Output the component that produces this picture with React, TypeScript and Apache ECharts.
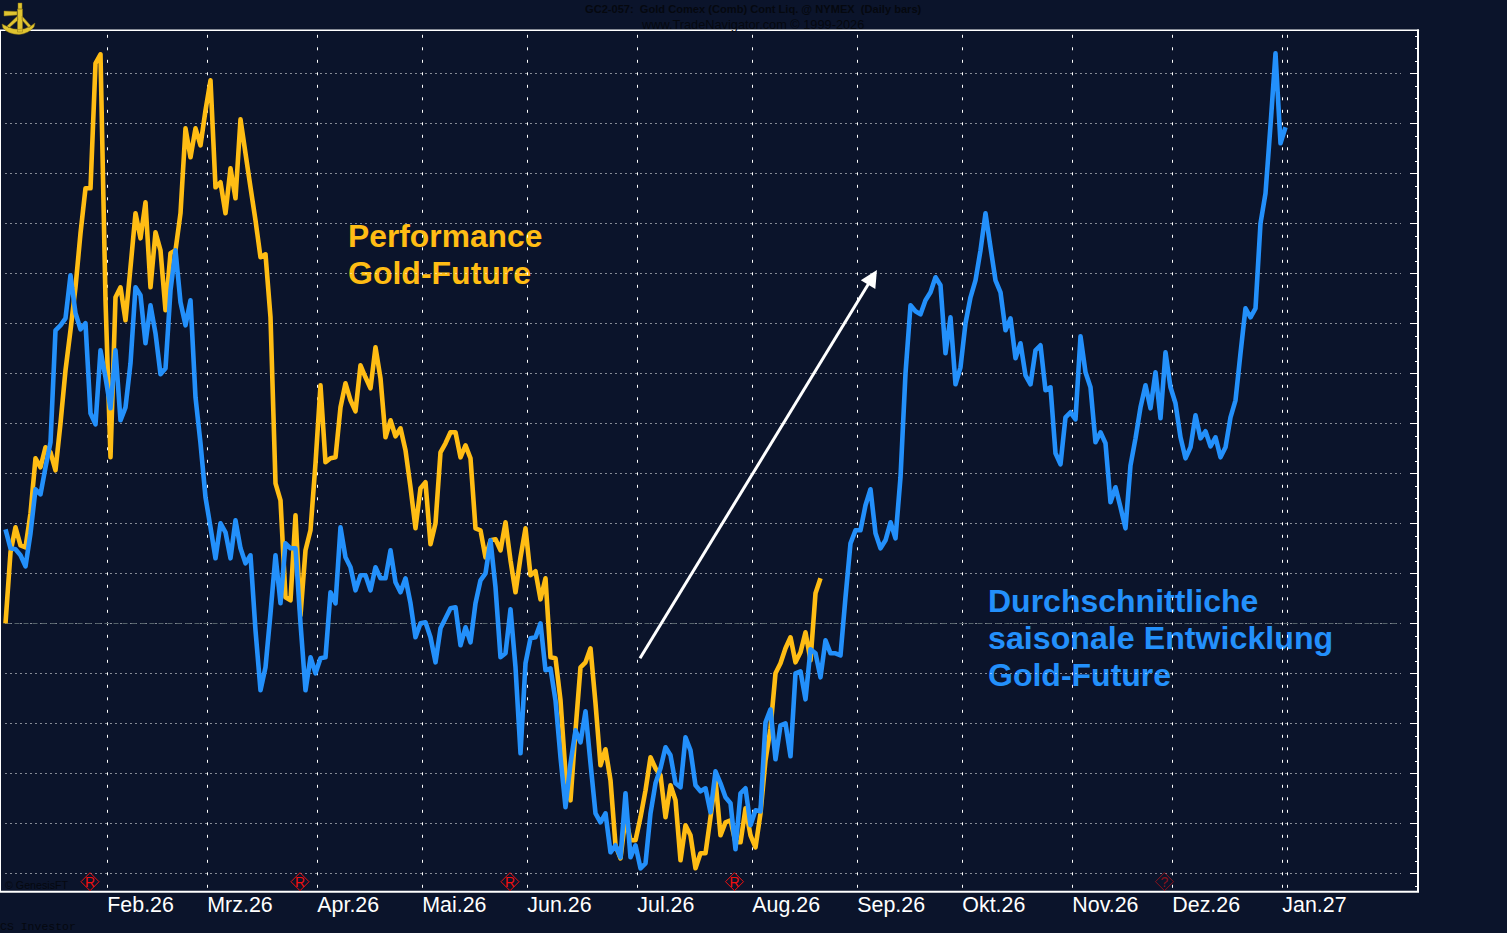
import React, { useEffect, useRef } from "react";
import * as echarts from "echarts";

const blueValues = [
  344,325,324,318,307,340,384,379,406,431,543,548,555,598,560,544,550,460,449,523,
  496,465,523,453,466,510,586,578,530,568,540,499,505,583,623,571,548,573,476,430,
  376,346,315,350,341,315,353,325,310,318,243,183,206,260,318,270,330,325,325,250,
  183,216,200,215,216,281,270,346,316,306,283,298,298,283,306,295,295,323,291,281,
  295,270,236,250,251,236,211,245,255,265,266,228,246,231,270,293,300,333,286,216,
  220,264,206,120,210,235,236,250,203,205,173,116,66,110,143,131,162,110,60,51,
  60,21,28,16,80,16,28,5,10,60,90,105,126,118,90,86,136,123,88,82,
  85,61,102,90,76,70,24,80,85,48,63,62,151,164,114,148,150,117,200,202,
  174,224,220,196,233,220,220,218,276,330,343,343,368,384,340,325,333,351,335,396,
  500,568,562,559,573,581,596,588,520,556,489,506,550,576,593,623,660,626,593,581,
  543,555,515,530,498,489,523,528,483,486,420,409,456,461,454,537,501,486,431,441,
  430,371,386,366,345,408,435,466,488,465,501,455,521,486,470,436,415,426,458,435,
  442,427,436,416,426,456,473,520,565,556,565,650,680,748,820,730,746,
];
const goldValues = [
  250,321,346,328,326,360,415,406,426,421,403,450,503,543,586,640,685,685,810,819,
  573,416,576,586,553,606,660,635,671,586,641,623,563,620,623,660,745,716,745,728,
  763,793,686,691,660,705,675,754,720,686,653,616,619,556,390,373,276,273,358,258,
  323,343,410,488,411,415,416,466,490,473,462,508,496,485,526,495,436,453,437,445,
  423,386,345,385,391,329,350,421,430,441,441,416,428,415,345,343,316,333,334,323,
  351,313,281,316,345,298,302,274,295,216,215,173,100,73,143,206,211,225,170,108,
  124,93,28,15,56,33,33,56,83,116,105,98,56,88,73,13,48,38,5,20,
  20,56,93,38,51,53,31,31,65,38,26,60,113,145,200,210,225,236,211,221,
  241,213,280,295,
];
const monthLabels = ["Feb.26","Mrz.26","Apr.26","Mai.26","Jun.26","Jul.26","Aug.26","Sep.26","Okt.26","Nov.26","Dez.26","Jan.27"];
const monthStarts = [20.36,40.36,62.36,83.36,104.36,126.36,149.36,170.36,191.36,213.36,233.36,255.36];
const extraTicks = [256.36];
const majorLevels = [0,50,100,150,200,250,300,350,400,450,500,550,600,650,700,750,800];
const minorLevels = [-12.5,12.5,25,37.5,62.5,75,87.5,112.5,125,137.5,162.5,175,187.5,212.5,225,237.5,262.5,275,287.5,312.5,325,337.5,362.5,375,387.5,412.5,425,437.5,462.5,475,487.5,512.5,525,537.5,562.5,575,587.5,612.5,625,637.5,662.5,675,687.5,712.5,725,737.5,762.5,775,787.5,812.5,825,837.5];
const markerDays = [16.9,58.9,100.9,145.8,231.8];
const markerLevels = [-8.4,-8.4,-8.4,-8.4,-8.4];
const markerTexts = ["R","R","R","R","?"];
const markerOpacity = [1,1,1,1,0.55];
const arrowStart = [126.9,215];
const arrowEnd = [173.4,596];
const referenceLevel = 250;

const BG = "#0b142b";
const GOLD = "#ffbd14";
const BLUE = "#2390fb";
const DARK = "#05080f";

echarts.graphic.registerShape(
  "logo",
  echarts.graphic.extendPath(
    "M18 3 L22 3 L22 9 L18 9 Z M4 11 L17 11.5 L17 15 L4 16 Z M17.5 9 L22.5 9 L22.5 32 L17.5 32 Z M17.5 16 L7 26 L9 28 L18 20 Z M22 16 L31 26 L29 28 L22 20 Z M2 24 L6 26 Q19 33 31 26 L35 23 L34 27 Q28 34 19 34.5 Q8 34 3 28 Z",
    {}
  )
);

function text(x: number, y: number, t: string, style: any) {
  return { type: "text", x, y, silent: true, style: { text: t, verticalAlign: "middle", ...style } };
}

export default function App() {
  const ref = useRef<HTMLDivElement>(null);
  useEffect(() => {
    document.body.style.margin = "0";
    document.body.style.background = BG;
    const chart = echarts.init(ref.current!, undefined, { renderer: "svg" });
    const sans = "Liberation Sans";
    const titleFont = { fontFamily: "Liberation Sans", fontSize: 32, fontWeight: "bold" };
    chart.setOption({
      animation: false,
      backgroundColor: BG,
      grid: { left: 5.5, top: 30.3, width: 1395.5, height: 861, containLabel: false },
      xAxis: {
        type: "value",
        min: 0,
        max: 279.1,
        axisLine: { show: false },
        axisTick: { show: false, customValues: [...monthStarts, ...extraTicks] },
        splitLine: { show: true, lineStyle: { color: "#fff", width: 1, type: [3, 9.5], dashOffset: 7.8 } },
        axisLabel: {
          customValues: monthStarts,
          formatter: (v: number) => monthLabels[monthStarts.findIndex((m) => Math.abs(m - v) < 0.01)] ?? "",
          color: "#fff",
          fontFamily: sans,
          fontSize: 21.4,
          align: "left",
          margin: 3,
        },
      },
      yAxis: [
        {
          type: "value",
          min: -18,
          max: 843,
          axisLine: { show: false },
          axisLabel: { show: false },
          axisTick: { show: false, customValues: majorLevels },
          splitLine: { show: true, lineStyle: { color: "#fff", width: 1, type: [1, 4] } },
        },
        {
          type: "value",
          position: "right",
          offset: 17,
          min: -18,
          max: 843,
          axisLine: { show: true, onZero: false, lineStyle: { color: "#fff", width: 2 } },
          axisLabel: { show: false },
          axisTick: { show: true, inside: true, length: 8, customValues: majorLevels, lineStyle: { color: "#fff", width: 1 } },
          splitLine: { show: false },
        },
        {
          type: "value",
          position: "right",
          offset: 17,
          min: -18,
          max: 843,
          axisLine: { show: false },
          axisLabel: { show: false },
          axisTick: { show: true, inside: true, length: 3, customValues: minorLevels, lineStyle: { color: "#fff", width: 1 } },
          splitLine: { show: false },
        },
      ],
      series: [
        {
          name: "Performance Gold-Future",
          type: "line",
          z: 3,
          symbol: "none",
          silent: true,
          data: goldValues.map((v, i) => [i, v]),
          lineStyle: { color: GOLD, width: 4.6, join: "round" },
          markLine: {
            silent: true,
            symbol: ["none", "triangle"],
            symbolSize: [17, 17],
            label: { show: false },
            lineStyle: { color: "#fff", width: 3, type: "solid" },
            data: [[{ coord: arrowStart }, { coord: arrowEnd }]],
          },
        },
        {
          name: "Durchschnittliche saisonale Entwicklung Gold-Future",
          type: "line",
          z: 4,
          symbol: "none",
          silent: true,
          data: blueValues.map((v, i) => [i, v]),
          lineStyle: { color: BLUE, width: 4.6, join: "round" },
          markLine: {
            silent: true,
            z: 1,
            symbol: "none",
            label: { show: false },
            lineStyle: { color: "#55626a", width: 1, type: [5, 4] },
            data: [{ yAxis: referenceLevel }],
          },
        },
        {
          name: "Signale",
          type: "scatter",
          z: 5,
          silent: true,
          symbol: "diamond",
          symbolSize: [18, 18],
          data: markerDays.map((d, i) => ({
            value: [d, markerLevels[i]],
            itemStyle: { opacity: markerOpacity[i] },
            label: { formatter: markerTexts[i] },
          })),
          itemStyle: { color: "rgba(0,0,0,0)", borderColor: "#f01010", borderWidth: 1, borderType: "solid" },
          label: { show: true, position: "inside", color: "#f01010", fontFamily: "Liberation Sans", fontSize: 14 },
        },
      ],
      graphic: [
        { type: "line", silent: true, shape: { x1: 0, y1: 30.3, x2: 1419, y2: 30.3 }, style: { stroke: "#fff", lineWidth: 1.4 } },
        { type: "line", silent: true, shape: { x1: 0.5, y1: 30.3, x2: 0.5, y2: 892 }, style: { stroke: "#fff", lineWidth: 1 } },
        { type: "line", silent: true, shape: { x1: 0, y1: 891.7, x2: 1419, y2: 891.7 }, style: { stroke: "#fff", lineWidth: 2 } },
        { type: "logo", silent: true, x: 0, y: 0, style: { fill: "#e0c430", stroke: "#8a7416", lineWidth: 0.5 } },
        text(585, 9, "GC2-057:  Gold Comex (Comb) Cont Liq. @ NYMEX  (Daily bars)", { fill: DARK, fontFamily: sans, fontSize: 11.1, fontWeight: "bold" }),
        text(642, 24, "www.TradeNavigator.com \u00a9 1999-2026", { fill: DARK, fontFamily: sans, fontSize: 12.75 }),
        text(5, 885, "\u00a9 GenesisFT", { fill: DARK, fontFamily: sans, fontSize: 10.7 }),
        text(0, 926, "CS Investor", { fill: DARK, fontFamily: "Liberation Mono", fontSize: 11.5 }),
        text(348, 236, "Performance", { fill: GOLD, ...titleFont, fontSize: 31.8 }),
        text(348, 273, "Gold-Future", { fill: GOLD, ...titleFont }),
        text(988, 601, "Durchschnittliche", { fill: BLUE, ...titleFont }),
        text(988, 638, "saisonale Entwicklung", { fill: BLUE, ...titleFont, fontSize: 32.2 }),
        text(988, 675, "Gold-Future", { fill: BLUE, ...titleFont }),
      ],
    });
    return () => chart.dispose();
  }, []);
  return <div ref={ref} style={{ width: 1507, height: 933 }} />;
}
